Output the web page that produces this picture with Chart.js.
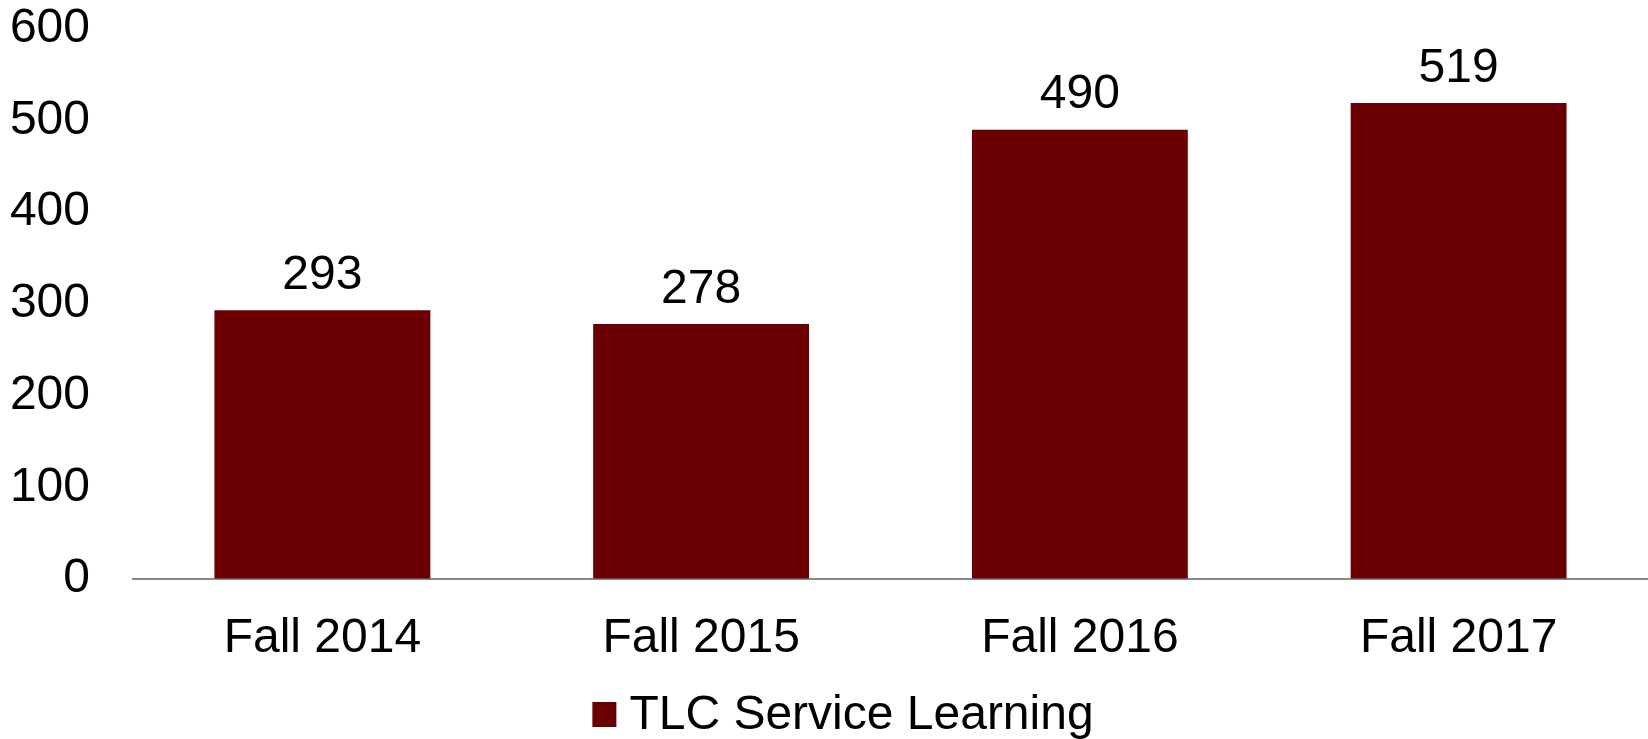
<!DOCTYPE html>
<html>
<head>
<meta charset="utf-8">
<script src="https://cdn.jsdelivr.net/npm/chart.js@4.4.0/dist/chart.umd.min.js"></script>
<style>
  html, body { margin: 0; padding: 0; background: #fff; }
  #wrap { width: 1648px; height: 739px; }
</style>
</head>
<body>
<div id="wrap"><canvas id="chart"></canvas></div>
<script>
// Chart data
const categories = ['Fall 2014', 'Fall 2015', 'Fall 2016', 'Fall 2017'];
const values = [293, 278, 490, 519];
const seriesName = 'TLC Service Learning';
const yTicks = [0, 100, 200, 300, 400, 500, 600];

const barColor = '#6a0004';
const fontFamily = '"Liberation Sans", Arial, sans-serif';
const fontSize = 48;

// value labels above the bars
const valueLabels = {
  id: 'valueLabels',
  afterDatasetsDraw(chart) {
    const ctx = chart.ctx;
    const meta = chart.getDatasetMeta(0);
    ctx.save();
    ctx.font = fontSize + 'px ' + fontFamily;
    ctx.fillStyle = '#000';
    ctx.textAlign = 'center';
    ctx.textBaseline = 'alphabetic';
    meta.data.forEach((bar, i) => {
      ctx.fillText(values[i], bar.x, bar.y - 21.5);
    });
    ctx.restore();
  }
};

// legend under the axis labels (square box, then series name)
const bottomLegend = {
  id: 'bottomLegend',
  afterDraw(chart) {
    const ctx = chart.ctx;
    ctx.save();
    ctx.font = fontSize + 'px ' + fontFamily;
    const textW = ctx.measureText(seriesName).width;
    const boxW = 24, boxH = 25, gap = 13;
    const total = boxW + gap + textW;
    const left = chart.width / 2 - total / 2 + 19;
    const baseline = chart.height - 10;
    ctx.fillStyle = barColor;
    ctx.fillRect(left, baseline - 27, boxW, boxH);
    ctx.fillStyle = '#000';
    ctx.textAlign = 'left';
    ctx.textBaseline = 'alphabetic';
    ctx.fillText(seriesName, left + boxW + gap, baseline);
    ctx.restore();
  }
};

new Chart(document.getElementById('chart'), {
  type: 'bar',
  data: {
    labels: categories,
    datasets: [{
      label: seriesName,
      data: values,
      backgroundColor: barColor,
      barPercentage: 0.57,
      categoryPercentage: 1.0
    }]
  },
  options: {
    responsive: true,
    maintainAspectRatio: false,
    animation: false,
    layout: { padding: { top: 2.5, left: 0, right: 0, bottom: 0 } },
    plugins: {
      legend: { display: false },
      tooltip: { enabled: false }
    },
    scales: {
      x: {
        grid: { display: false, drawTicks: false },
        border: { display: true, color: '#898989', width: 2 },
        afterFit(scale) { scale.height = 160; },
        ticks: {
          font: { family: fontFamily, size: fontSize },
          color: '#000',
          padding: 31,
          maxRotation: 0
        }
      },
      y: {
        min: 0,
        max: 600,
        // transparent tick marks make the gap between labels and plot
        grid: { display: true, drawOnChartArea: false, drawTicks: true, tickLength: 43, color: 'rgba(0,0,0,0)' },
        border: { display: false },
        afterFit(scale) { scale.width = 133; },
        afterBuildTicks(scale) { scale.ticks = yTicks.map(v => ({ value: v })); },
        ticks: {
          font: { family: fontFamily, size: fontSize },
          color: '#000',
          padding: 0
        }
      }
    }
  },
  plugins: [valueLabels, bottomLegend]
});
</script>
</body>
</html>
